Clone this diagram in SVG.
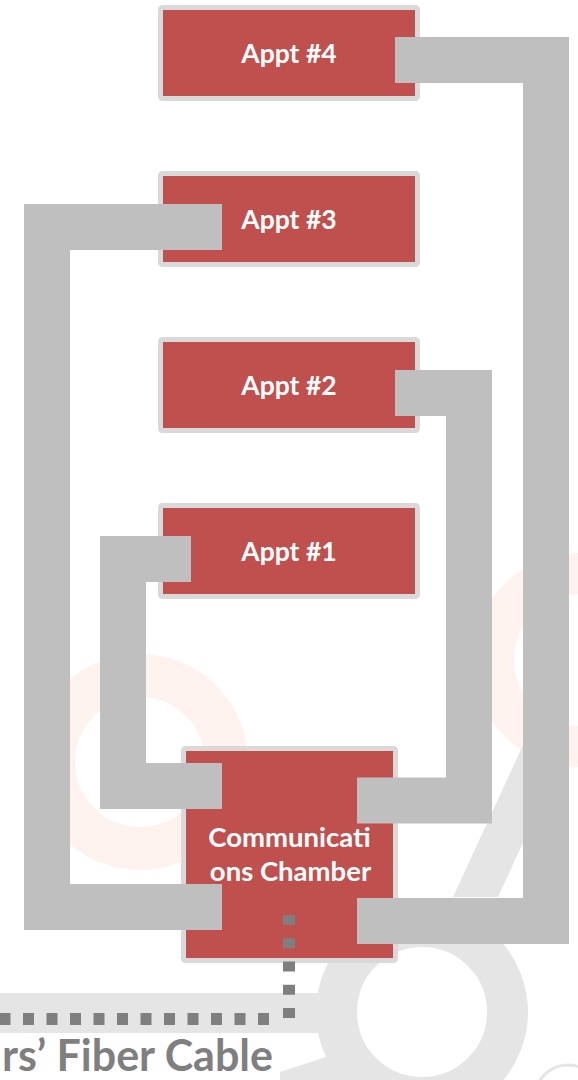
<svg xmlns="http://www.w3.org/2000/svg" width="578" height="1080" viewBox="0 0 578 1080">
  <style>
    .box { fill: #c0504d; stroke: #d9d9d9; stroke-width: 5; }
    .lbl { fill: #ffffff; font-family: Lato, "Open Sans", "Liberation Sans", sans-serif; font-weight: bold; font-size: 26.5px; text-anchor: middle; }
    .lbl2 { font-size: 27.5px; }
    .pipe { fill: none; stroke: #bfbfbf; stroke-width: 46; stroke-linejoin: miter; stroke-linecap: butt; }
    .dots { fill: none; stroke: #7f7f7f; stroke-width: 12; }
    .wm-o { fill: none; stroke: #fdf2ed; }
    .wm-g { fill: #e5e5e5; }
  </style>
  <rect width="578" height="1080" fill="#ffffff"/>
  <g id="watermark">
    <circle class="wm-o" cx="140" cy="762" r="86.5" stroke-width="43"/>
    <circle class="wm-o" cx="580" cy="660" r="86.5" stroke-width="41"/>
    <rect class="wm-g" x="0" y="993" width="330" height="40"/>
    <polygon class="wm-g" points="453,897 523,745 568,745 498,897"/>
    <polygon class="wm-g" points="280,1080 280,1072 332,1055 350,1080"/>
    <circle cx="422" cy="1012" r="85.5" fill="none" stroke="#e5e5e5" stroke-width="41"/>
    <circle cx="568" cy="1098" r="33" fill="none" stroke="#e5e5e5" stroke-width="3"/>
  </g>
  <g id="appt4">
    <rect class="box" x="160.5" y="7.5" width="257" height="91" rx="2"/>
    <text class="lbl" x="289" y="63">Appt #4</text>
  </g>
  <g id="appt3">
    <rect class="box" x="160.5" y="173.5" width="257" height="91" rx="2"/>
    <text class="lbl" x="289" y="229">Appt #3</text>
  </g>
  <g id="appt2">
    <rect class="box" x="160.5" y="339.5" width="257" height="91" rx="2"/>
    <text class="lbl" x="289" y="395">Appt #2</text>
  </g>
  <g id="appt1">
    <rect class="box" x="160.5" y="505.5" width="257" height="91" rx="2"/>
    <text class="lbl" x="289" y="561">Appt #1</text>
  </g>
  <g id="chamber">
    <rect class="box" x="183.5" y="748.5" width="212" height="212" rx="2"/>
    <text class="lbl lbl2" x="289.5" y="847">Communicati</text>
    <text class="lbl lbl2" x="290.5" y="881">ons Chamber</text>
  </g>
  <g id="connectors">
    <path class="pipe" d="M395,60 H546 V921 H357"/>
    <path class="pipe" d="M222,227 H47 V907 H222"/>
    <path class="pipe" d="M395,393 H469 V800.5 H357"/>
    <path class="pipe" d="M191,559 H123 V786 H222"/>
    <path class="dots" d="M289,915 V1019" stroke-dasharray="10 13.25"/>
    <path class="dots" d="M269,1019 H-10" stroke-dasharray="11 12.5"/>
  </g>
  <text x="273" y="1071" text-anchor="end" fill="#7f7f7f" font-family="Lato, 'Open Sans', 'Liberation Sans', sans-serif" font-weight="bold" font-size="43">rs’ Fiber Cable</text>
</svg>
